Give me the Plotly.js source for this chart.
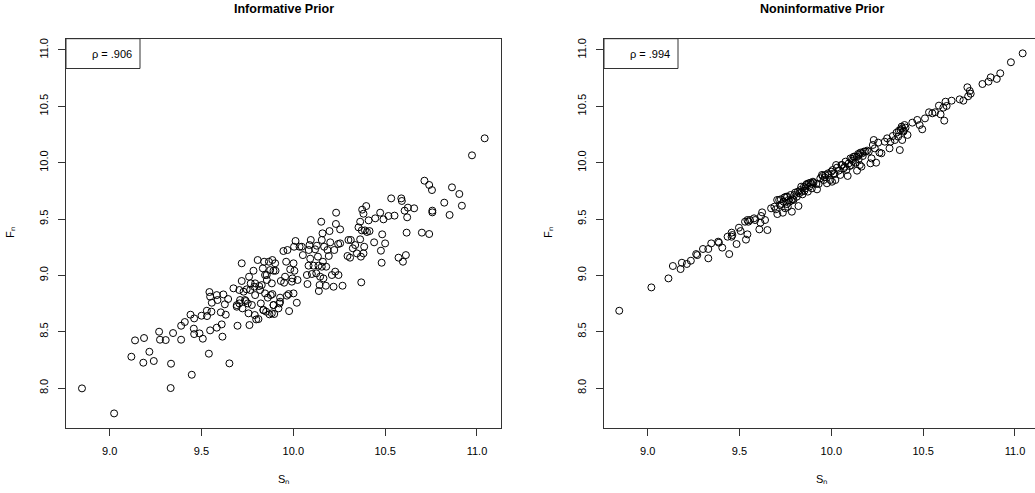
<!DOCTYPE html>
<html>
<head>
<meta charset="utf-8">
<script src="https://cdn.plot.ly/plotly-3.0.1.min.js"></script>
<style>
html,body{margin:0;padding:0;overflow:hidden;background:#fff;}
#chart{width:1040px;height:493px;}
</style>
</head>
<body>
<div id="chart"></div>
<script>
// Panel titles and correlation labels
const panelTitles = ["Informative Prior", "Noninformative Prior"];
const rhoLabels = ["\u03c1 = .906", "\u03c1 = .994"];
const xTitle = "S\u2099";
const yTitle = "F\u2099";
const tickVals = [8.0, 8.5, 9.0, 9.5, 10.0, 10.5, 11.0];

// Informative prior panel (S_n, F_n)
const informativeS = [8.849,9.024,9.118,9.138,9.187,9.183,9.216,9.240,9.269,9.274,9.305,9.334,9.332,9.345,9.389,9.389,9.409,9.440,9.447,9.460,9.458,9.460,9.489,9.500,9.507,9.529,9.530,9.540,9.543,9.547,9.547,9.556,9.554,9.583,9.583,9.587,9.605,9.610,9.614,9.619,9.627,9.632,9.645,9.652,9.674,9.696,9.692,9.706,9.706,9.719,9.719,9.723,9.729,9.741,9.746,9.752,9.759,9.756,9.761,9.768,9.774,9.783,9.787,9.792,9.790,9.798,9.806,9.810,9.814,9.823,9.828,9.834,9.837,9.841,9.846,9.846,9.852,9.856,9.861,9.867,9.870,9.877,9.883,9.886,9.892,9.886,9.892,9.896,9.901,9.903,9.919,9.925,9.928,9.932,9.946,9.950,9.955,9.961,9.965,9.968,9.974,9.977,9.983,9.992,9.995,10.001,10.001,10.004,10.006,10.012,10.019,10.023,10.034,10.046,10.052,10.074,10.077,10.083,10.084,10.088,10.095,10.092,10.101,10.110,10.119,10.125,10.128,10.134,10.137,10.139,10.143,10.146,10.152,10.155,10.155,10.159,10.161,10.164,10.168,10.177,10.179,10.186,10.193,10.197,10.201,10.210,10.219,10.223,10.228,10.232,10.233,10.244,10.246,10.255,10.255,10.268,10.295,10.300,10.309,10.313,10.324,10.337,10.346,10.355,10.364,10.364,10.368,10.370,10.373,10.375,10.382,10.382,10.386,10.390,10.397,10.401,10.410,10.415,10.440,10.446,10.473,10.477,10.481,10.484,10.491,10.500,10.518,10.533,10.551,10.573,10.588,10.591,10.597,10.606,10.613,10.617,10.620,10.624,10.658,10.700,10.714,10.740,10.740,10.755,10.757,10.757,10.822,10.851,10.864,10.904,10.918,10.973,11.042,9.692,9.710,9.737,9.765,9.792,9.819,9.837,9.883,9.892,9.928,9.855,9.874];
const informativeF = [7.997,7.775,8.278,8.423,8.444,8.225,8.322,8.240,8.500,8.429,8.426,8.216,8.000,8.488,8.429,8.553,8.586,8.651,8.118,8.618,8.527,8.479,8.485,8.642,8.438,8.686,8.639,8.305,8.852,8.811,8.512,8.757,8.678,8.825,8.536,8.781,8.672,8.565,8.456,8.831,8.743,8.651,8.790,8.219,8.885,8.553,8.722,8.751,8.870,9.107,8.950,8.707,8.855,8.772,8.876,8.751,8.988,8.663,8.559,8.929,8.737,9.041,8.899,8.825,8.648,8.609,9.136,8.612,8.905,8.751,8.914,9.062,8.692,9.121,9.003,8.840,8.678,8.959,8.802,9.121,8.654,8.825,8.929,9.136,9.041,8.834,8.737,8.657,9.107,9.041,8.707,8.751,8.802,8.950,9.216,8.935,8.988,9.121,8.820,9.225,8.834,8.683,9.053,8.944,8.973,9.107,8.840,9.254,9.041,9.305,8.757,8.959,9.254,9.254,9.180,9.003,8.923,9.086,9.225,9.269,9.314,9.148,9.012,9.086,9.231,9.018,9.263,9.166,9.086,8.861,8.914,8.988,9.476,9.077,9.314,9.373,9.121,8.973,9.254,8.908,9.077,9.225,9.172,9.393,9.293,9.003,8.899,9.225,9.033,9.456,9.556,9.278,9.003,9.284,9.408,8.908,9.172,9.314,9.157,9.314,9.240,9.269,9.195,9.426,9.476,9.320,9.166,8.938,9.399,9.583,9.547,9.195,9.254,9.399,9.615,9.385,9.488,9.393,9.293,9.506,9.556,9.219,9.112,9.364,9.497,9.284,9.527,9.683,9.530,9.157,9.683,9.660,9.121,9.574,9.180,9.379,9.515,9.601,9.595,9.379,9.840,9.802,9.367,9.757,9.574,9.559,9.645,9.536,9.781,9.722,9.618,10.065,10.216,8.736,8.781,8.781,8.870,8.929,8.870,8.692,8.663,8.736,8.766,9.003,9.047];

// Noninformative prior panel (S_n, F_n)
const noninformativeS = [8.845,9.020,9.113,9.137,9.179,9.186,9.213,9.235,9.264,9.270,9.301,9.330,9.330,9.346,9.384,9.388,9.406,9.435,9.444,9.457,9.461,9.457,9.484,9.497,9.506,9.530,9.535,9.543,9.543,9.548,9.557,9.579,9.585,9.608,9.614,9.617,9.623,9.639,9.652,9.672,9.690,9.698,9.706,9.716,9.721,9.730,9.736,9.740,9.749,9.754,9.758,9.763,9.772,9.778,9.785,9.789,9.794,9.803,9.812,9.821,9.825,9.831,9.836,9.843,9.854,9.858,9.867,9.872,9.880,9.887,9.894,9.900,9.922,9.931,9.949,9.958,9.964,9.976,9.982,9.995,10.000,10.004,10.013,10.022,10.026,10.040,10.049,10.055,10.067,10.077,10.082,10.089,10.095,10.104,10.109,10.117,10.122,10.131,10.140,10.146,10.149,10.158,10.164,10.171,10.177,10.195,10.213,10.219,10.226,10.231,10.237,10.244,10.255,10.262,10.273,10.291,10.304,10.317,10.322,10.335,10.346,10.355,10.364,10.373,10.377,10.383,10.386,10.392,10.399,10.404,10.415,10.441,10.468,10.481,10.495,10.510,10.532,10.550,10.565,10.586,10.595,10.610,10.615,10.622,10.628,10.655,10.699,10.719,10.741,10.745,10.754,10.759,10.823,10.856,10.868,10.901,10.920,10.978,11.042,9.705,9.725,9.745,9.760,9.767,9.781,9.798,9.818,9.840,9.851,9.862,9.876,9.891,9.903,9.918,9.940,9.953,9.967,9.985,10.007,10.018,10.031,10.058,10.073,10.100,10.113,10.128,10.140,10.149,10.155,10.168,10.186,10.204,10.368,10.386,10.395];
const noninformativeF = [8.686,8.893,8.973,9.083,9.056,9.112,9.101,9.130,9.189,9.180,9.234,9.234,9.151,9.284,9.299,9.290,9.246,9.343,9.189,9.379,9.358,9.343,9.278,9.423,9.393,9.476,9.317,9.364,9.491,9.476,9.491,9.506,9.491,9.408,9.467,9.527,9.559,9.491,9.402,9.595,9.609,9.586,9.544,9.669,9.624,9.633,9.556,9.654,9.595,9.698,9.633,9.609,9.654,9.713,9.565,9.675,9.669,9.734,9.698,9.615,9.728,9.757,9.787,9.719,9.751,9.772,9.811,9.743,9.787,9.822,9.772,9.831,9.763,9.811,9.891,9.846,9.870,9.817,9.905,9.846,9.920,9.831,9.905,9.846,9.979,9.929,9.891,9.979,9.950,10.009,9.935,9.882,9.994,10.038,9.979,10.015,10.053,10.000,9.929,10.077,10.030,10.089,9.965,10.059,10.098,10.107,9.994,10.038,10.157,10.201,10.127,10.000,10.178,10.089,10.083,10.186,10.216,10.127,10.186,10.237,10.201,10.266,10.231,10.112,10.290,10.320,10.201,10.275,10.334,10.311,10.246,10.355,10.379,10.334,10.296,10.393,10.447,10.438,10.447,10.506,10.429,10.488,10.373,10.541,10.503,10.550,10.562,10.550,10.669,10.589,10.636,10.612,10.698,10.719,10.757,10.743,10.793,10.891,10.970,9.669,9.675,9.692,9.698,9.669,9.663,9.713,9.743,9.743,9.787,9.802,9.817,9.811,9.822,9.811,9.861,9.882,9.891,9.891,9.935,9.899,9.956,9.979,9.964,9.970,10.033,10.053,10.053,10.068,9.979,10.083,10.098,10.098,10.284,10.305,10.284];

const W = 1040, H = 493;
const px = v => v / W;
const py = v => 1 - v / H;

const FONT = "Liberation Sans, Arial, sans-serif";
const marker = {symbol: "circle-open", size: 7, color: "#000", line: {width: 1, color: "#000"}};

const traces = [
  {x: informativeS, y: informativeF, type: "scatter", mode: "markers", marker: marker, xaxis: "x", yaxis: "y", hoverinfo: "x+y"},
  {x: noninformativeS, y: noninformativeF, type: "scatter", mode: "markers", marker: marker, xaxis: "x2", yaxis: "y2", hoverinfo: "x+y"}
];

function xax(domain) {
  return {
    domain: domain, range: [8.762, 11.131], autorange: false,
    tickvals: tickVals.slice(2), ticktext: tickVals.slice(2).map(v => v.toFixed(1)),
    ticks: "outside", ticklen: 7, tickwidth: 1, tickcolor: "#333",
    showline: true, mirror: true, linecolor: "#333", linewidth: 1,
    showgrid: false, zeroline: false, ticklabelstandoff: 6,
    tickfont: {family: FONT, size: 11, color: "#000"}
  };
}
function yax(anchor) {
  return {
    domain: [py(427.5), py(38.7)], range: [7.65, 11.10], autorange: false, anchor: anchor,
    tickvals: tickVals, ticktext: tickVals.map(v => v.toFixed(1)), tickangle: -90,
    ticks: "outside", ticklen: 7, tickwidth: 1, tickcolor: "#333",
    showline: true, mirror: true, linecolor: "#333", linewidth: 1,
    showgrid: false, zeroline: false, ticklabelstandoff: 6,
    tickfont: {family: FONT, size: 11, color: "#000"}
  };
}

const xa1 = xax([px(66), px(501)]); xa1.anchor = "y";
const xa2 = xax([px(604), px(1039)]); xa2.anchor = "y2";

const annotations = [];
const shapes = [];
const panels = [[66, 501, "x", "y"], [604, 1039, "x2", "y2"]];
panels.forEach((p, i) => {
  const cx = (p[0] + p[1]) / 2;
  annotations.push({text: "<b>" + panelTitles[i] + "</b>", xref: "paper", yref: "paper", x: px(cx), y: py(8.5),
    xanchor: "center", yanchor: "middle", showarrow: false, font: {family: FONT, size: 12.5, color: "#000"}});
  annotations.push({text: xTitle, xref: "paper", yref: "paper", x: px(cx), y: py(479),
    xanchor: "center", yanchor: "middle", showarrow: false, font: {family: FONT, size: 11, color: "#000"}});
  annotations.push({text: yTitle, xref: "paper", yref: "paper", x: px(p[0] - 56), y: py(233),
    xanchor: "center", yanchor: "middle", textangle: -90, showarrow: false, font: {family: FONT, size: 11, color: "#000"}});
  const w = p[1] - p[0];
  shapes.push({type: "rect", xref: p[2] + " domain", yref: p[3] + " domain",
    x0: 0, x1: 74 / w, y0: (427.5 - 68.5) / (427.5 - 38.7), y1: 1,
    line: {color: "#333", width: 1}, fillcolor: "rgba(0,0,0,0)"});
  annotations.push({text: rhoLabels[i], xref: p[2] + " domain", yref: p[3] + " domain",
    x: 68 / w, y: (427.5 - 53.5) / (427.5 - 38.7), xanchor: "right", yanchor: "middle",
    showarrow: false, font: {family: FONT, size: 11, color: "#000"}});
});

const layout = {
  width: W, height: H, margin: {l: 0, r: 0, t: 0, b: 0},
  paper_bgcolor: "#fff", plot_bgcolor: "#fff", showlegend: false,
  xaxis: xa1, yaxis: yax("x"), xaxis2: xa2, yaxis2: yax("x2"),
  annotations: annotations, shapes: shapes
};

Plotly.newPlot("chart", traces, layout, {displayModeBar: false, staticPlot: true});
</script>
</body>
</html>
